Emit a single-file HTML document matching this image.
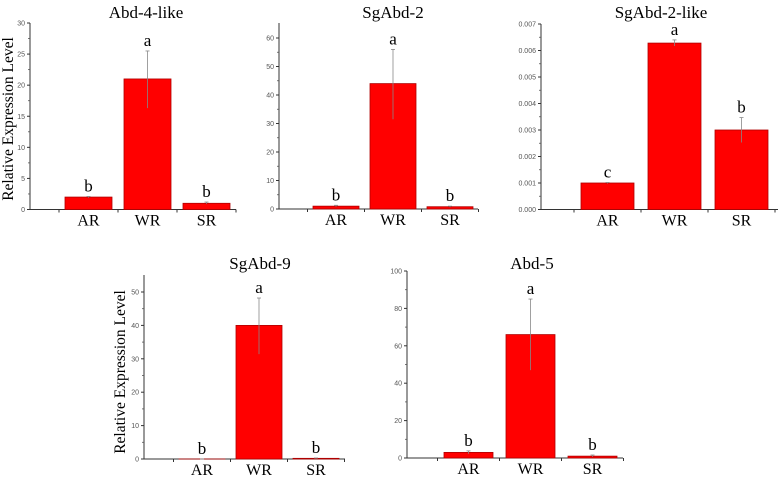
<!DOCTYPE html>
<html><head><meta charset="utf-8">
<style>
html,body{margin:0;padding:0;background:#fff;}
svg{display:block;}
</style></head>
<body>
<svg id="fig" width="778" height="477" viewBox="0 0 778 477" xmlns="http://www.w3.org/2000/svg"></svg>
<script>
// ---- data ----
const categories = ["AR","WR","SR"];
const p1Values = [2, 21, 1];
const p1ErrHi = [2.1, 25.5, 1.2];
const p1ErrLo = [1.9, 16.3, 0.9];
const p1Letters = ["b","a","b"];
const p1Ticks = [0,5,10,15,20,25,30];

const p2Values = [1, 44, 0.8];
const p2ErrHi = [1.3, 56, 1.0];
const p2ErrLo = [0.8, 31.5, 0.6];
const p2Letters = ["b","a","b"];
const p2Ticks = [0,10,20,30,40,50,60];

const p3Values = [0.001, 0.00628, 0.003];
const p3ErrHi = [0.00102, 0.0064, 0.00347];
const p3ErrLo = [0.00098, 0.00617, 0.00253];
const p3Letters = ["c","a","b"];
const p3Ticks = [0,0.001,0.002,0.003,0.004,0.005,0.006,0.007];
const p3TickLabels = ["0.000","0.001","0.002","0.003","0.004","0.005","0.006","0.007"];

const p4Values = [0, 40, 0.2];
const p4ErrHi = [0, 48.2, 0.3];
const p4ErrLo = [0, 31.4, 0.1];
const p4Letters = ["b","a","b"];
const p4Ticks = [0,10,20,30,40,50];

const p5Values = [3, 66, 1];
const p5ErrHi = [3.8, 85, 1.6];
const p5ErrLo = [2.2, 47, 0.6];
const p5Letters = ["b","a","b"];
const p5Ticks = [0,20,40,60,80,100];

const NS = "http://www.w3.org/2000/svg";
const svg = document.getElementById("fig");
function mk(tag, attrs, parent){
  const e = document.createElementNS(NS, tag);
  for (const k in attrs) e.setAttribute(k, attrs[k]);
  (parent||svg).appendChild(e);
  return e;
}

function panel(cfg){
  const g = mk("g", {});
  
  
  const y = v => cfg.y0 - (v - 0) / cfg.yMax * (cfg.y0 - cfg.yTop);
  const xc = i => cfg.c0 + i * cfg.step;
  // title
  const t = mk("text", {x: cfg.titleX, y: cfg.titleY, "text-anchor":"middle", "font-family":"Liberation Serif, serif", "font-size":"17", fill:"#000"}, g);
  t.textContent = cfg.title;
  
  
  // axes
  const ya = mk("line", {x1:cfg.ax, y1:cfg.axTop, x2:cfg.ax, y2:cfg.y0, stroke:"#333", "stroke-width":"1"}, g);
  
  
  const xa = mk("line", {x1:cfg.ax, y1:cfg.y0, x2:cfg.axEnd, y2:cfg.y0, stroke:"#333", "stroke-width":"1"}, g);
  
  
  // y ticks
  cfg.ticks.forEach((v, i) => {
    const yy = y(v);
    mk("line", {x1:cfg.ax-3, y1:yy, x2:cfg.ax, y2:yy, stroke:"#333", "stroke-width":"1"}, g);
    if (i < cfg.ticks.length - 1) {
      const ym = y((v + cfg.ticks[i+1]) / 2);
      mk("line", {x1:cfg.ax-2, y1:ym, x2:cfg.ax, y2:ym, stroke:"#555", "stroke-width":"0.8"}, g);
    }
    const tl = mk("text", {x:cfg.ax-5, y:yy+2.5, "text-anchor":"end", "font-family":"Liberation Sans, sans-serif", "font-size":"7", fill:"#555"}, g);
    tl.textContent = cfg.tickLabels ? cfg.tickLabels[i] : String(v);
    
    
  });
  // x ticks at boundaries
  for (let i = 0; i <= categories.length; i++) {
    const xx = xc(i) - cfg.step/2;
    mk("line", {x1:xx, y1:cfg.y0, x2:xx, y2:cfg.y0+3, stroke:"#333", "stroke-width":"1"}, g);
  }
  // bars
  categories.forEach((c, i) => {
    const v = cfg.values[i];
    const top = y(v);
    const b = mk("rect", {x:xc(i)-cfg.bw/2, y:top, width:cfg.bw, height:Math.max(cfg.y0-top, 0.01), fill:"#ff0000", stroke:"#b00000", "stroke-width":"0.8"}, g);
    
    
    const e = mk("line", {x1:xc(i), y1:y(cfg.hi[i]), x2:xc(i), y2:y(cfg.lo[i]), stroke:"#888", "stroke-width":"0.8"}, g);
    
    
    mk("line", {x1:xc(i)-2, y1:y(cfg.hi[i]), x2:xc(i)+2, y2:y(cfg.hi[i]), stroke:"#888", "stroke-width":"0.8"}, g);
    const lt = mk("text", {x:xc(i), y:Math.min(y(cfg.hi[i]), top) - 5, "text-anchor":"middle", "font-family":"Liberation Serif, serif", "font-size":"17", fill:"#000"}, g);
    lt.textContent = cfg.letters[i];
    
    
    const xl = mk("text", {x:xc(i), y:cfg.y0+16, "text-anchor":"middle", "font-family":"Liberation Serif, serif", "font-size":"16", fill:"#000"}, g);
    xl.textContent = c;
    
    
  });
  if (cfg.ylabel) {
    const yl = mk("text", {x:0, y:0, transform:"translate(" + cfg.ylX + "," + cfg.ylY + ") rotate(-90)", "text-anchor":"middle", "font-family":"Liberation Serif, serif", "font-size":"15.5", fill:"#000"}, g);
    yl.textContent = "Relative Expression Level";
    
    
  }
}

panel({name:"panel-abd-4-like", title:"Abd-4-like", titleX:146, titleY:18,
  ax:30, axTop:23, axEnd:236, y0:209.5, yTop:23, yMax:30,
  c0:88.5, step:59, bw:47, values:p1Values, hi:p1ErrHi, lo:p1ErrLo, letters:p1Letters, ticks:p1Ticks,
  ylabel:true, ylX:13, ylY:119});
panel({name:"panel-sgabd-2", title:"SgAbd-2", titleX:393, titleY:18,
  ax:279, axTop:23, axEnd:478, y0:209, yTop:38, yMax:60,
  c0:336, step:57, bw:46, values:p2Values, hi:p2ErrHi, lo:p2ErrLo, letters:p2Letters, ticks:p2Ticks});
panel({name:"panel-sgabd-2-like", title:"SgAbd-2-like", titleX:661, titleY:18,
  ax:541, axTop:24, axEnd:778, y0:209.5, yTop:24, yMax:0.007,
  c0:607.5, step:67, bw:53, values:p3Values, hi:p3ErrHi, lo:p3ErrLo, letters:p3Letters, ticks:p3Ticks, tickLabels:p3TickLabels});
panel({name:"panel-sgabd-9", title:"SgAbd-9", titleX:260, titleY:269,
  ax:144, axTop:275, axEnd:345, y0:459, yTop:292, yMax:50,
  c0:202, step:57, bw:46, values:p4Values, hi:p4ErrHi, lo:p4ErrLo, letters:p4Letters, ticks:p4Ticks,
  ylabel:true, ylX:125, ylY:372});
panel({name:"panel-abd-5", title:"Abd-5", titleX:532, titleY:269,
  ax:407, axTop:271, axEnd:623, y0:458, yTop:271, yMax:100,
  c0:468.5, step:62, bw:49, values:p5Values, hi:p5ErrHi, lo:p5ErrLo, letters:p5Letters, ticks:p5Ticks});
</script>
</body></html>
